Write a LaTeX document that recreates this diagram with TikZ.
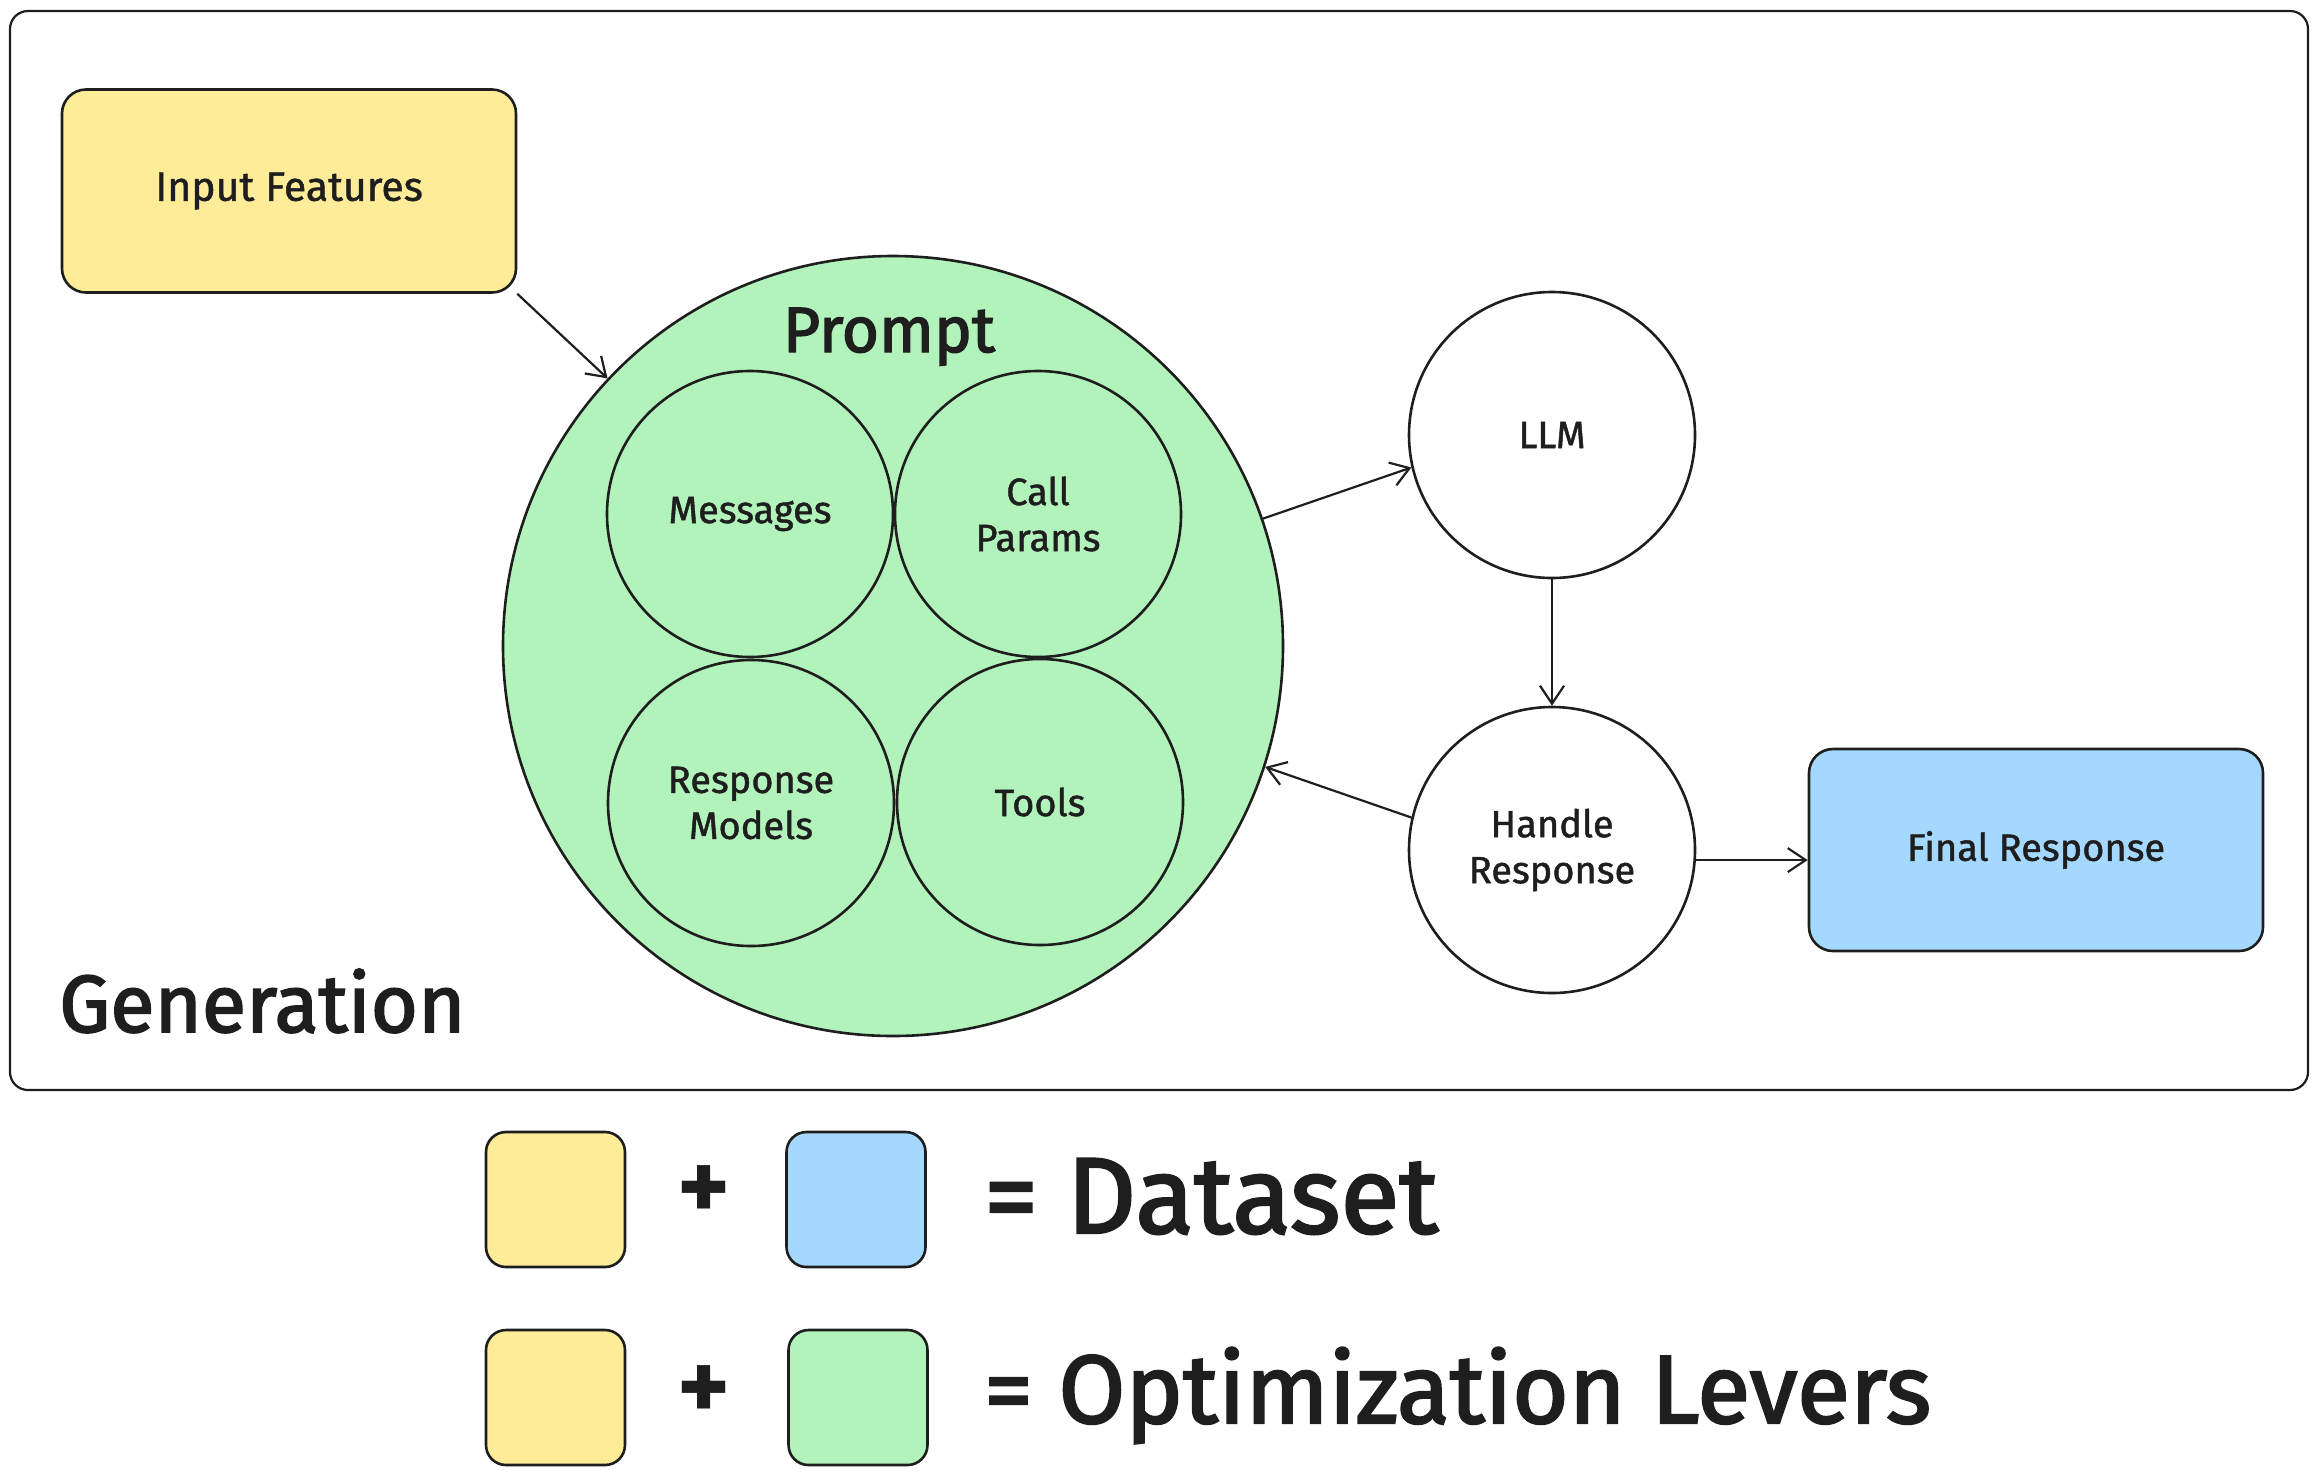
\documentclass[tikz,border=0pt]{standalone}
\usepackage{fontspec}
\setmainfont{Fira Sans}
\newfontfamily\medfont{Fira Sans}[FakeBold=1.2]
\newfontfamily\heavyfont{Fira Sans}[FakeBold=2.2]
\usetikzlibrary{arrows.meta}
\definecolor{ink}{HTML}{1E1E1E}
\definecolor{fyellow}{HTML}{FFEC99}
\definecolor{fblue}{HTML}{A5D8FF}
\definecolor{fgreen}{HTML}{B2F2BB}
\tikzset{
  lbl/.style={font=\medfont\fontsize{38}{46}\selectfont, text=ink, align=center},
  box/.style={draw=ink, line width=2.6pt, rounded corners=24pt, inner sep=0pt, lbl},
  circ/.style={draw=ink, line width=2.6pt, circle, inner sep=0pt, minimum size=286pt, lbl},
  conn/.style={draw=ink, line width=2.2pt, -{Straight Barb[length=18pt, width=24pt, line width=2.2pt]}},
  legbox/.style={draw=ink, line width=2.6pt, rounded corners=20pt, minimum width=139pt, minimum height=135pt, inner sep=0pt},
  bigtxt/.style={text=ink, inner sep=0pt},
}
\begin{document}
\begin{tikzpicture}[x=1pt, y=-1pt]
\useasboundingbox (0,0) rectangle (2317,1476);
% outer frame
\draw[draw=ink, line width=2.2pt, rounded corners=18pt] (10,11) rectangle (2308,1090);
\node[bigtxt, font=\heavyfont\fontsize{81}{86}\selectfont, anchor=base west] (gen) at (59,1032) {Generation};
% input features
\node[box, fill=fyellow, minimum width=454pt, minimum height=203pt, font=\medfont\fontsize{41}{46}\selectfont] (inp) at (289,191) {Input Features};
% prompt
\node[circle, draw=ink, line width=2.6pt, fill=fgreen, minimum size=780pt, inner sep=0pt] (prompt) at (893,646) {};
\node[bigtxt, font=\heavyfont\fontsize{64}{70}\selectfont, anchor=base] (ptitle) at (889,352) {Prompt};
\node[circ, fill=fgreen] (msg) at (750,514) {Messages};
\node[circ, fill=fgreen] (cp) at (1038,514) {Call\\Params};
\node[circ, fill=fgreen] (rm) at (751,803) {Response\\Models};
\node[circ, fill=fgreen] (tools) at (1040,802) {Tools};
% LLM and handle
\node[circ, fill=white] (llm) at (1552,435) {LLM};
\node[circ, fill=white] (hr) at (1552,850) {Handle\\Response};
\node[box, fill=fblue, minimum width=454pt, minimum height=202pt] (fin) at (2036,850) {Final Response};
% connectors
\draw[conn] (inp.south east) -- (prompt);
\draw[conn] (prompt.19) -- (llm.193);
\draw[conn] (llm.south) -- (hr.north);
\draw[conn] (hr.167) -- (prompt.-18);
\draw[conn] (hr.-4) -- (hr.-4 -| fin.west);
% legend
\node[legbox, fill=fyellow] (ly1) at (555.5,1199.5) {};
\node[bigtxt, font=\bfseries\fontsize{100}{100}\selectfont] (p1) at (704,1193) {+};
\node[legbox, fill=fblue] (lb1) at (856,1199.5) {};
\node[bigtxt, font=\heavyfont\fontsize{108}{116}\selectfont, anchor=base west] (ds) at (984,1233) {= Dataset};
\node[legbox, fill=fyellow] (ly2) at (555.5,1397.5) {};
\node[bigtxt, font=\bfseries\fontsize{100}{100}\selectfont] (p2) at (704,1393) {+};
\node[legbox, fill=fgreen] (lg2) at (858,1397.5) {};
\node[bigtxt, font=\heavyfont\fontsize{97}{104}\selectfont, anchor=base west] (ol) at (984,1423) {= Optimization Levers};
\end{tikzpicture}
\end{document}
